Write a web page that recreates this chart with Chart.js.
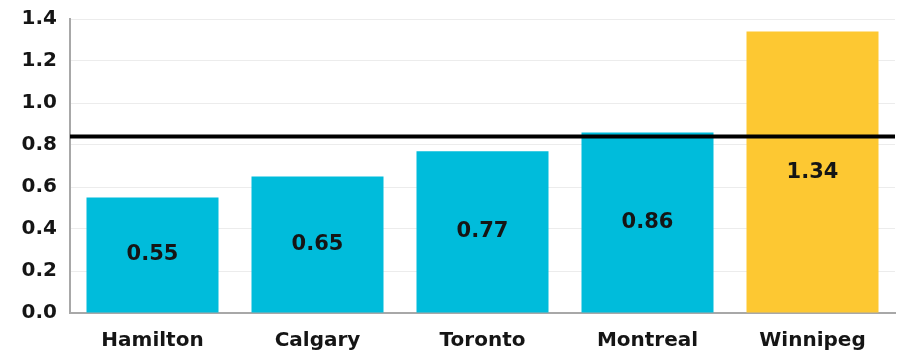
<!DOCTYPE html>
<html lang="en">
<head>
  <meta charset="UTF-8">
  <title>Ratio by city</title>
  <script src="https://cdn.jsdelivr.net/npm/chart.js"></script>
  <style>
    html, body { margin: 0; padding: 0; background: #fff; }
    #wrap { width: 897px; height: 356px; }
  </style>
</head>
<body>
<div id="wrap"><canvas id="cityChart" width="897" height="356"></canvas></div>

<script>
  const cities = ['Hamilton', 'Calgary', 'Toronto', 'Montreal', 'Winnipeg'];
  const ratios = [0.55, 0.65, 0.77, 0.86, 1.34];
  const barColors = ['#00bcdb', '#00bcdb', '#00bcdb', '#00bcdb', '#fdc832'];
  const benchmark = 0.84;
  const yTicks = [0, 0.2, 0.4, 0.6, 0.8, 1.0, 1.2, 1.4];

  const FONT = "'DejaVu Sans', Verdana, sans-serif";

  // value printed in the middle of each bar
  const barLabels = {
    id: 'barLabels',
    afterDatasetsDraw(chart) {
      const ctx = chart.ctx;
      const meta = chart.getDatasetMeta(0);
      ctx.save();
      ctx.font = 'bold 21px ' + FONT;
      ctx.fillStyle = '#151515';
      ctx.textAlign = 'center';
      ctx.textBaseline = 'middle';
      meta.data.forEach((bar, i) => {
        ctx.fillText(ratios[i].toFixed(2), bar.x, (bar.y + bar.base) / 2);
      });
      ctx.restore();
    }
  };

  // thick black reference line across the whole plot
  const benchmarkLine = {
    id: 'benchmarkLine',
    afterDatasetsDraw(chart) {
      const { ctx, chartArea, scales } = chart;
      const y = scales.y.getPixelForValue(benchmark);
      ctx.save();
      ctx.strokeStyle = '#000';
      ctx.lineWidth = 4;
      ctx.beginPath();
      ctx.moveTo(chartArea.left, y);
      ctx.lineTo(chartArea.right, y);
      ctx.stroke();
      ctx.restore();
    }
  };

  const chart = new Chart(document.getElementById('cityChart'), {
    type: 'bar',
    data: {
      labels: cities,
      datasets: [{
        data: ratios,
        backgroundColor: barColors,
        borderWidth: 0,
        barPercentage: 0.8,
        categoryPercentage: 1.0
      }]
    },
    options: {
      responsive: false,
      animation: false,
      layout: { padding: { top: 19, right: 2, left: 0, bottom: 0 } },
      plugins: {
        legend: { display: false },
        tooltip: { enabled: false }
      },
      scales: {
        x: {
          grid: { display: false, drawTicks: false },
          border: { display: true, color: '#a8a8a8', width: 2 },
          ticks: {
            color: '#151515',
            font: { family: FONT, size: 20, weight: 'bold' },
            padding: 16
          },
          afterFit(scale) { scale.height = 43; }
        },
        y: {
          min: 0,
          max: 1.4,
          afterBuildTicks(scale) {
            scale.ticks = yTicks.map(v => ({ value: v }));
          },
          grid: { color: '#ececec', lineWidth: 1, drawTicks: false },
          border: { display: true, color: '#a8a8a8', width: 2 },
          ticks: {
            color: '#151515',
            font: { family: FONT, size: 20, weight: 'bold' },
            padding: 13,
            callback: v => v.toFixed(1)
          },
          afterFit(scale) {
            scale.width = 70;
            scale.paddingTop = 0;
            scale.paddingBottom = 0;
          }
        }
      }
    },
    plugins: [barLabels, benchmarkLine]
  });
</script>
</body>
</html>
